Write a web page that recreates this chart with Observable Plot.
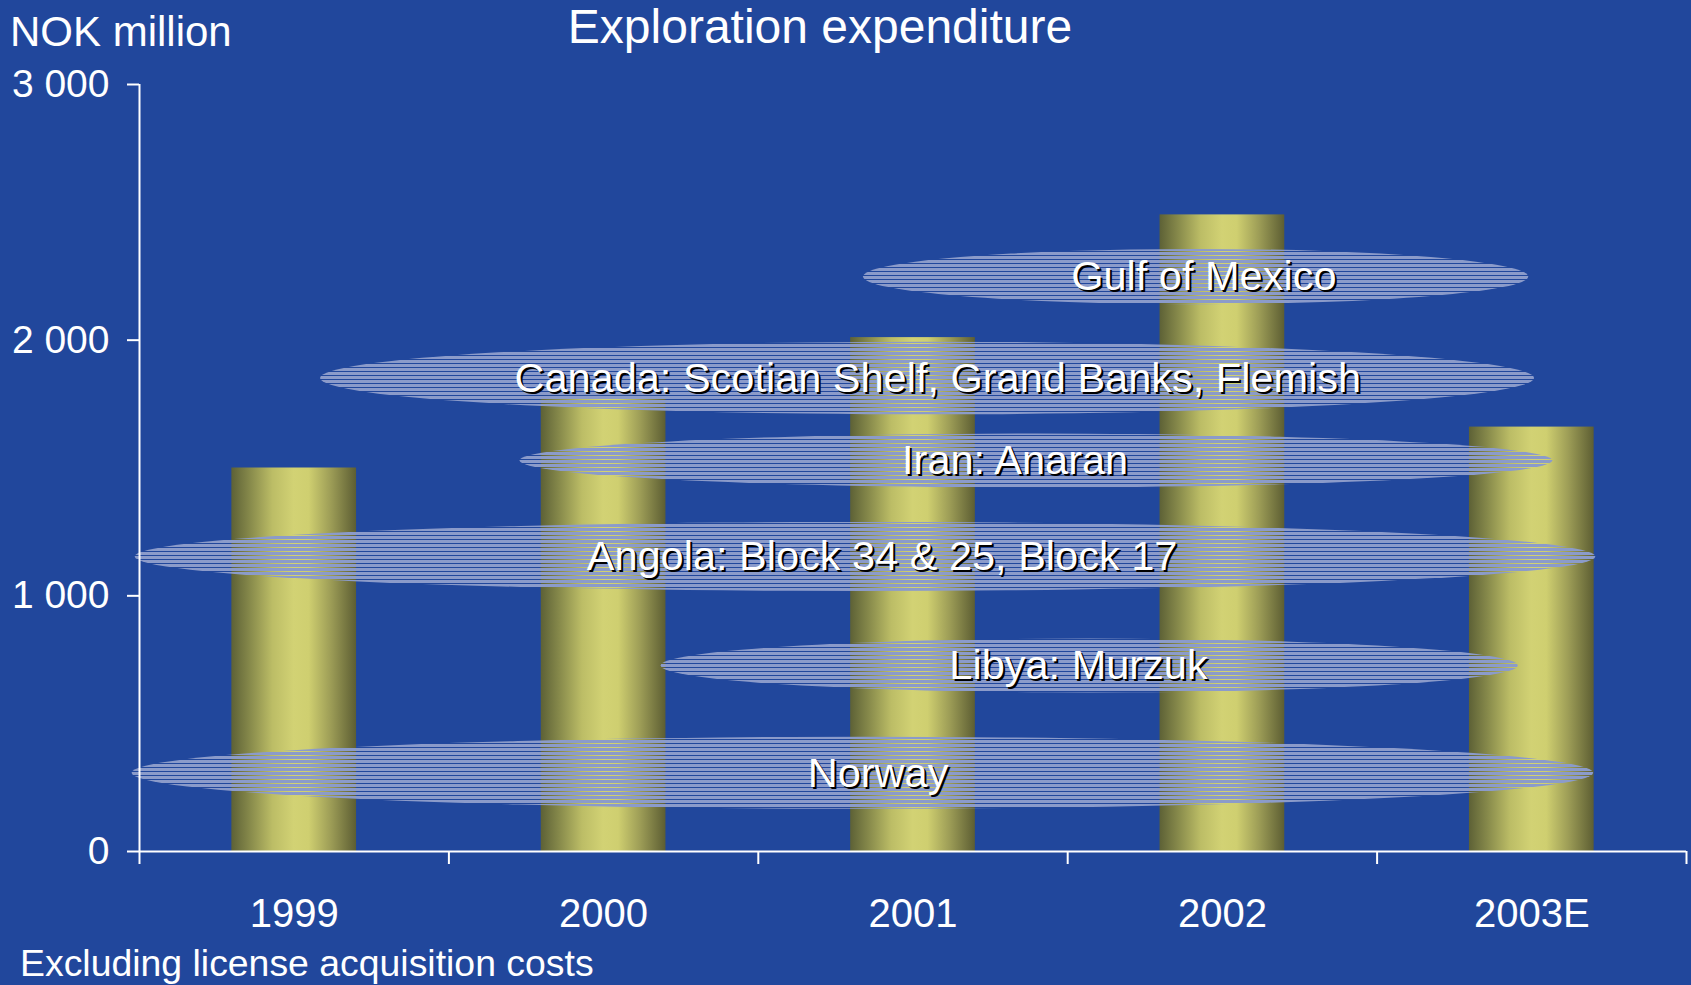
<!DOCTYPE html>
<html>
<head>
<meta charset="utf-8">
<script src="https://cdn.jsdelivr.net/npm/d3@7"></script>
<script src="https://cdn.jsdelivr.net/npm/@observablehq/plot@0.6"></script>
<style>
  html, body { margin: 0; padding: 0; background: #21479c; width: 1691px; height: 985px; overflow: hidden; }
  body { position: relative; font-family: "Liberation Sans", Arial, sans-serif; color: white; }
  .lbl { position: absolute; line-height: 1; white-space: nowrap; }
  #chart { position: absolute; left: 0; top: 0; }
</style>
</head>
<body>
<svg width="0" height="0" style="position:absolute">
  <defs>
    <linearGradient id="barGrad" x1="0" x2="1" y1="0" y2="0">
      <stop offset="0" stop-color="#5d6136"/>
      <stop offset="0.15" stop-color="#878a4b"/>
      <stop offset="0.33" stop-color="#bcbd66"/>
      <stop offset="0.5" stop-color="#d2d274"/>
      <stop offset="0.62" stop-color="#cfcf70"/>
      <stop offset="0.8" stop-color="#9c9c56"/>
      <stop offset="1" stop-color="#5d5e33"/>
    </linearGradient>
    <pattern id="stripes" patternUnits="userSpaceOnUse" width="8" height="4">
      <rect x="0" y="0" width="8" height="3" fill="#8b9bca"/>
    </pattern>
  </defs>
</svg>
<div class="lbl" id="title" style="left:820px; top:3px; font-size:48px; transform:translateX(-50%);">Exploration expenditure</div>
<div class="lbl" id="unit" style="left:10px; top:11px; font-size:42px;">NOK million</div>
<div class="lbl" id="caption" style="left:20px; top:945px; font-size:37.4px;">Excluding license acquisition costs</div>
<div id="chart"></div>
<script>
// ---- data ----
const years = [1999, 2000, 2001, 2002, 2003];
const yearLabels = ["1999", "2000", "2001", "2002", "2003E"];
const expenditure = [1500, 1780, 2010, 2490, 1660];

const regions = [
  "Gulf of Mexico",
  "Canada: Scotian Shelf, Grand Banks, Flemish",
  "Iran: Anaran",
  "Angola: Block 34 & 25, Block 17",
  "Libya: Murzuk",
  "Norway"
];
const regionStart = [2000.84, 1999.085, 1999.73, 1998.486, 2000.186, 1998.476];
const regionEnd   = [2002.99, 2003.009, 2003.068, 2003.207, 2002.956, 2003.2];
const regionLow   = [2139, 1708, 1422, 1017, 620, 165];
const regionHigh  = [2355, 1992, 1633, 1287, 831, 447];
const regionLabelX = [2001.94, 2001.08, 2001.33, 2000.90, 2001.535, 2000.887];

const yTicks = [0, 1000, 2000, 3000];
const bandEdges = [1998.5, 1999.5, 2000.5, 2001.5, 2002.5, 2003.5];

// ---- tables ----
const bars = years.map((y, i) => ({year: y, value: expenditure[i]}));
const ovals = regions.map((r, i) => ({
  name: r, x1: regionStart[i], x2: regionEnd[i], y1: regionLow[i], y2: regionHigh[i],
  lx: regionLabelX[i], ly: (regionLow[i] + regionHigh[i]) / 2
}));

const HALF = 0.2015;
const fmt = d => d3.format(",")(d).replace(/,/g, " ");

const chart = Plot.plot({
  width: 1691,
  height: 985,
  marginLeft: 139,
  marginRight: 5,
  marginTop: 84,
  marginBottom: 134,
  style: {background: "transparent", color: "white", fontFamily: "'Liberation Sans', Arial, sans-serif", overflow: "visible"},
  x: {domain: [1998.5, 2003.5]},
  y: {domain: [0, 3000]},
  marks: [
    Plot.rect(bars, {x1: d => d.year - HALF, x2: d => d.year + HALF, y1: 0, y2: "value", fill: "url(#barGrad)"}),
    Plot.rect(ovals, {x1: "x1", x2: "x2", y1: "y1", y2: "y2", rx: 5000, ry: 5000, fill: "url(#stripes)"}),
    Plot.text(ovals, {x: "lx", y: "ly", text: "name", fill: "black", dx: 2, dy: 2, fontSize: 41.5}),
    Plot.text(ovals, {x: "lx", y: "ly", text: "name", fill: "white", fontSize: 41.5}),
    Plot.ruleX([1998.5], {stroke: "white", strokeWidth: 2}),
    Plot.ruleY([0], {stroke: "white", strokeWidth: 2}),
    Plot.axisY({ticks: yTicks, tickSize: 12, tickPadding: 18, tickFormat: fmt, fontSize: 39, stroke: "white", strokeWidth: 2, label: null}),
    Plot.axisX({ticks: bandEdges, tickSize: 13, tickFormat: () => "", stroke: "white", strokeWidth: 2, label: null}),
    Plot.axisX({ticks: years, tickSize: 0, tickPadding: 47, tickFormat: d => yearLabels[years.indexOf(d)], fontSize: 40, label: null})
  ]
});
document.getElementById("chart").appendChild(chart);
</script>
</body>
</html>
